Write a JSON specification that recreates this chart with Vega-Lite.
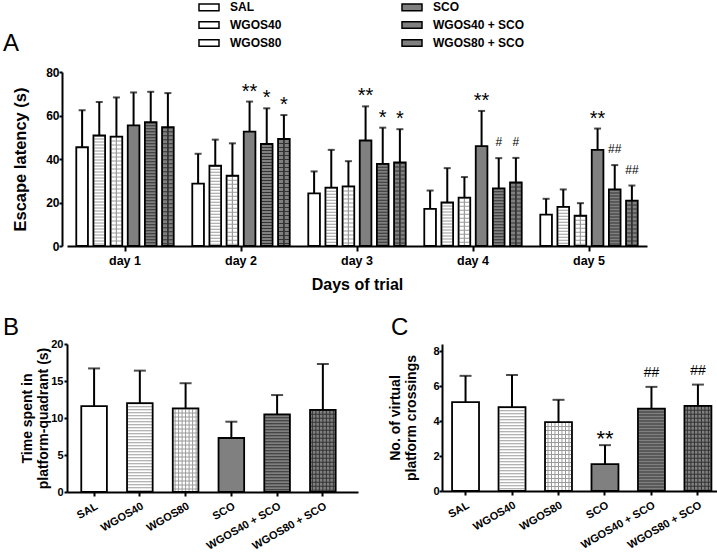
{
  "$schema": "https://vega.github.io/schema/vega-lite/v6.json",
  "padding": {"left": 3, "top": -4, "right": 0, "bottom": 0},
  "background": "white",
  "config": {
    "font": "Liberation Sans",
    "view": {"stroke": null},
    "axis": {
      "domainColor": "black", "domainWidth": 2, "tickColor": "black", "tickWidth": 2,
      "labelColor": "black", "titleColor": "black", "labelFontWeight": "bold", "titleFontWeight": "bold",
      "grid": false, "labelFont": "Liberation Sans", "titleFont": "Liberation Sans", "labelOverlap": false
    }
  },
  "datasets": {
    "escape": [
      {"day": "day 1", "group": "SAL", "mean": 45.4, "err": 62.4, "ann": ""},
      {"day": "day 1", "group": "WGOS40", "mean": 50.8, "err": 66.2, "ann": ""},
      {"day": "day 1", "group": "WGOS80", "mean": 50.3, "err": 68.3, "ann": ""},
      {"day": "day 1", "group": "SCO", "mean": 55.5, "err": 70.6, "ann": ""},
      {"day": "day 1", "group": "WGOS40 + SCO", "mean": 56.9, "err": 70.9, "ann": ""},
      {"day": "day 1", "group": "WGOS80 + SCO", "mean": 54.6, "err": 70.3, "ann": ""},
      {"day": "day 2", "group": "SAL", "mean": 28.7, "err": 42.4, "ann": ""},
      {"day": "day 2", "group": "WGOS40", "mean": 36.9, "err": 48.9, "ann": ""},
      {"day": "day 2", "group": "WGOS80", "mean": 32.3, "err": 47.2, "ann": ""},
      {"day": "day 2", "group": "SCO", "mean": 52.6, "err": 66.4, "ann": "**"},
      {"day": "day 2", "group": "WGOS40 + SCO", "mean": 46.9, "err": 63.3, "ann": "*"},
      {"day": "day 2", "group": "WGOS80 + SCO", "mean": 49.2, "err": 60.2, "ann": "*"},
      {"day": "day 3", "group": "SAL", "mean": 24.2, "err": 34.3, "ann": ""},
      {"day": "day 3", "group": "WGOS40", "mean": 26.8, "err": 44.2, "ann": ""},
      {"day": "day 3", "group": "WGOS80", "mean": 27.4, "err": 39.0, "ann": ""},
      {"day": "day 3", "group": "SCO", "mean": 48.5, "err": 64.2, "ann": "**"},
      {"day": "day 3", "group": "WGOS40 + SCO", "mean": 37.8, "err": 54.4, "ann": "*"},
      {"day": "day 3", "group": "WGOS80 + SCO", "mean": 38.4, "err": 53.7, "ann": "*"},
      {"day": "day 4", "group": "SAL", "mean": 17.1, "err": 25.5, "ann": ""},
      {"day": "day 4", "group": "WGOS40", "mean": 20.0, "err": 35.8, "ann": ""},
      {"day": "day 4", "group": "WGOS80", "mean": 22.2, "err": 31.7, "ann": ""},
      {"day": "day 4", "group": "SCO", "mean": 45.9, "err": 62.1, "ann": "**"},
      {"day": "day 4", "group": "WGOS40 + SCO", "mean": 26.5, "err": 40.4, "ann": "#"},
      {"day": "day 4", "group": "WGOS80 + SCO", "mean": 29.2, "err": 40.5, "ann": "#"},
      {"day": "day 5", "group": "SAL", "mean": 14.4, "err": 21.7, "ann": ""},
      {"day": "day 5", "group": "WGOS40", "mean": 18.0, "err": 26.0, "ann": ""},
      {"day": "day 5", "group": "WGOS80", "mean": 13.9, "err": 19.7, "ann": ""},
      {"day": "day 5", "group": "SCO", "mean": 44.2, "err": 54.0, "ann": "**"},
      {"day": "day 5", "group": "WGOS40 + SCO", "mean": 26.0, "err": 37.2, "ann": "##"},
      {"day": "day 5", "group": "WGOS80 + SCO", "mean": 20.9, "err": 27.8, "ann": "##"}
    ],
    "quadrant": [
      {"group": "SAL", "mean": 11.6, "err": 16.7},
      {"group": "WGOS40", "mean": 12.0, "err": 16.4},
      {"group": "WGOS80", "mean": 11.3, "err": 14.7},
      {"group": "SCO", "mean": 7.3, "err": 9.5},
      {"group": "WGOS40 + SCO", "mean": 10.5, "err": 13.1},
      {"group": "WGOS80 + SCO", "mean": 11.1, "err": 17.3}
    ],
    "crossings": [
      {"group": "SAL", "mean": 5.08, "err": 6.58, "ann": ""},
      {"group": "WGOS40", "mean": 4.79, "err": 6.63, "ann": ""},
      {"group": "WGOS80", "mean": 3.94, "err": 5.21, "ann": ""},
      {"group": "SCO", "mean": 1.54, "err": 2.62, "ann": "**"},
      {"group": "WGOS40 + SCO", "mean": 4.71, "err": 5.95, "ann": "##"},
      {"group": "WGOS80 + SCO", "mean": 4.87, "err": 6.08, "ann": "##"}
    ]
  },
  "resolve": {"legend": {"fill": "independent"}},
  "spacing": 23,
  "vconcat": [
    {
      "width": 580,
      "height": 174,
      "title": {"text": "A", "anchor": "start", "frame": "group", "font": "Liberation Sans", "fontSize": 24, "fontWeight": "normal", "color": "black", "dx": -64, "dy": 68, "offset": 8},
      "data": {"name": "escape"},
      "encoding": {
        "x": {"field": "day", "type": "nominal", "scale": {"paddingInner": 0.16, "paddingOuter": 0.08},
          "axis": {"title": "Days of trial", "labelAngle": 0, "labelFontSize": 12.5, "titleFontSize": 16, "tickSize": 5, "labelPadding": 3, "titlePadding": 10}},
        "xOffset": {"field": "group", "type": "nominal", "sort": ["SAL", "WGOS40", "WGOS80", "SCO", "WGOS40 + SCO", "WGOS80 + SCO"], "scale": {"paddingInner": 0.32, "paddingOuter": 0}}
      },
      "layer": [
        {
          "mark": {"type": "bar"},
          "encoding": {
            "y": {"field": "mean", "type": "quantitative", "scale": {"domain": [0, 80]},
              "axis": {"title": "Escape latency (s)", "values": [0, 20, 40, 60, 80], "tickCount": 5, "offset": 5, "labelOverlap": false, "labelFontSize": 12, "titleFontSize": 16.5, "tickSize": 3, "labelPadding": 0, "titlePadding": 17}},
            "fill": {"field": "group", "type": "nominal",
              "scale": {"domain": ["SAL", "WGOS40", "WGOS80", "SCO", "WGOS40 + SCO", "WGOS80 + SCO"],
                        "range": ["#ffffff", "#ffffff", "#ffffff", "#808080", "#808080", "#808080"]},
              "legend": {"orient": "none", "legendX": 131, "legendY": -76, "columns": 2, "columnPadding": 117, "rowPadding": -0.5,
                "symbolType": "M-1,-0.33H1V0.33H-1Z", "symbolSize": 400, "symbolStrokeColor": "black", "symbolStrokeWidth": 1.5,
                "labelFontSize": 12, "labelFontWeight": "bold", "labelColor": "black", "labelOffset": 10, "title": null, "padding": 0}}
          }
        },
        {
          "transform": [{"filter": "datum.group !== 'SAL' && datum.group !== 'SCO'"}],
          "mark": {"type": "rule", "strokeWidth": 10},
          "encoding": {
            "y": {"field": "mean", "type": "quantitative"}, "y2": {"datum": 0},
            "stroke": {"field": "group", "type": "nominal", "legend": null,
              "scale": {"domain": ["WGOS40", "WGOS80", "WGOS40 + SCO", "WGOS80 + SCO"], "range": ["#9a9a9a", "#9a9a9a", "#333333", "#333333"]}},
            "strokeDash": {"field": "group", "type": "nominal", "legend": null,
              "scale": {"domain": ["WGOS40", "WGOS80", "WGOS40 + SCO", "WGOS80 + SCO"], "range": [[1, 2], [1, 3], [1, 2], [1, 3]]}}
          }
        },
        {
          "transform": [{"filter": "datum.group === 'WGOS80' || datum.group === 'WGOS80 + SCO'"}],
          "encoding": {
            "y": {"field": "mean", "type": "quantitative"}, "y2": {"datum": 0},
            "stroke": {"field": "group", "type": "nominal", "legend": null}
          },
          "layer": [
            {"mark": {"type": "rule", "strokeWidth": 1, "xOffset": -3}},
            {"mark": {"type": "rule", "strokeWidth": 1, "xOffset": 0}},
            {"mark": {"type": "rule", "strokeWidth": 1, "xOffset": 3}}
          ]
        },
        {
          "mark": {"type": "bar", "fillOpacity": 0, "stroke": "black", "strokeWidth": 1.8},
          "encoding": {"y": {"field": "mean", "type": "quantitative"}}
        },
        {
          "mark": {"type": "rule", "strokeWidth": 2, "color": "black"},
          "encoding": {"y": {"field": "mean", "type": "quantitative"}, "y2": {"field": "err"}}
        },
        {
          "mark": {"type": "tick", "color": "black", "thickness": 2, "size": 7},
          "encoding": {"y": {"field": "err", "type": "quantitative"}}
        },
        {
          "transform": [{"filter": "datum.ann === '*' || datum.ann === '**'"}],
          "mark": {"type": "text", "fontSize": 20, "baseline": "alphabetic", "dy": -4, "color": "black"},
          "encoding": {"y": {"field": "err", "type": "quantitative"}, "text": {"field": "ann"}}
        },
        {
          "transform": [{"filter": "datum.ann === '#' || datum.ann === '##'"}],
          "mark": {"type": "text", "fontSize": 12, "baseline": "alphabetic", "dy": -12, "color": "black"},
          "encoding": {"y": {"field": "err", "type": "quantitative"}, "text": {"field": "ann"}}
        }
      ]
    },
    {
      "spacing": 30,
      "hconcat": [
        {
          "width": 291,
          "height": 148,
          "title": {"text": "B", "anchor": "start", "frame": "group", "font": "Liberation Sans", "fontSize": 24, "fontWeight": "normal", "color": "black", "dx": -64, "dy": 2, "offset": 0},
          "data": {"name": "quadrant"},
          "encoding": {
            "x": {"field": "group", "type": "nominal", "sort": ["SAL", "WGOS40", "WGOS80", "SCO", "WGOS40 + SCO", "WGOS80 + SCO"],
              "scale": {"paddingInner": 0.44, "paddingOuter": 0.4, "align": 0.39},
              "axis": {"title": null, "labelAngle": -30, "labelAlign": "right", "labelBaseline": "top", "labelFontSize": 11, "tickSize": 4, "labelPadding": 4}}
          },
          "layer": [
            {
              "mark": {"type": "bar"},
              "encoding": {
                "y": {"field": "mean", "type": "quantitative", "scale": {"domain": [0, 20]},
                  "axis": {"title": ["Time spent in", "platform-quadrant (s)"], "values": [0, 5, 10, 15, 20], "tickCount": 5, "labelOverlap": false, "labelFontSize": 11, "titleFontSize": 14, "titleLineHeight": 16, "tickSize": 3, "labelPadding": 1, "titlePadding": 0}},
                "fill": {"field": "group", "type": "nominal", "legend": null,
                  "scale": {"domain": ["SAL", "WGOS40", "WGOS80", "SCO", "WGOS40 + SCO", "WGOS80 + SCO"],
                            "range": ["#ffffff", "#ffffff", "#ffffff", "#808080", "#808080", "#808080"]}}
              }
            },
            {
              "transform": [{"filter": "datum.group !== 'SAL' && datum.group !== 'SCO'"}],
              "mark": {"type": "rule", "strokeWidth": 24},
              "encoding": {
                "y": {"field": "mean", "type": "quantitative"}, "y2": {"datum": 0},
                "stroke": {"field": "group", "type": "nominal", "legend": null,
                  "scale": {"domain": ["WGOS40", "WGOS80", "WGOS40 + SCO", "WGOS80 + SCO"], "range": ["#9a9a9a", "#9a9a9a", "#333333", "#333333"]}},
                "strokeDash": {"field": "group", "type": "nominal", "legend": null,
                  "scale": {"domain": ["WGOS40", "WGOS80", "WGOS40 + SCO", "WGOS80 + SCO"], "range": [[1, 2], [1, 2.6], [1, 2], [1, 2.6]]}}
              }
            },
            {
              "transform": [{"filter": "datum.group === 'WGOS80' || datum.group === 'WGOS80 + SCO'"}],
              "encoding": {
                "y": {"field": "mean", "type": "quantitative"}, "y2": {"datum": 0},
                "stroke": {"field": "group", "type": "nominal", "legend": null}
              },
              "layer": [
                {"mark": {"type": "rule", "strokeWidth": 1, "xOffset": -10.5}},
                {"mark": {"type": "rule", "strokeWidth": 1, "xOffset": -7}},
                {"mark": {"type": "rule", "strokeWidth": 1, "xOffset": -3.5}},
                {"mark": {"type": "rule", "strokeWidth": 1, "xOffset": 0}},
                {"mark": {"type": "rule", "strokeWidth": 1, "xOffset": 3.5}},
                {"mark": {"type": "rule", "strokeWidth": 1, "xOffset": 7}},
                {"mark": {"type": "rule", "strokeWidth": 1, "xOffset": 10.5}}
              ]
            },
            {
              "mark": {"type": "bar", "fillOpacity": 0, "stroke": "black", "strokeWidth": 1.8},
              "encoding": {"y": {"field": "mean", "type": "quantitative"}}
            },
            {
              "mark": {"type": "rule", "strokeWidth": 2, "color": "black"},
              "encoding": {"y": {"field": "mean", "type": "quantitative"}, "y2": {"field": "err"}}
            },
            {
              "mark": {"type": "tick", "color": "black", "thickness": 2, "size": 12},
              "encoding": {"y": {"field": "err", "type": "quantitative"}}
            }
          ]
        },
        {
          "width": 277,
          "height": 147,
          "title": {"text": "C", "anchor": "start", "frame": "group", "font": "Liberation Sans", "fontSize": 24, "fontWeight": "normal", "color": "black", "dx": -51, "dy": 2, "offset": 6},
          "data": {"name": "crossings"},
          "encoding": {
            "x": {"field": "group", "type": "nominal", "sort": ["SAL", "WGOS40", "WGOS80", "SCO", "WGOS40 + SCO", "WGOS80 + SCO"],
              "scale": {"paddingInner": 0.42, "paddingOuter": 0.19, "align": 0.57},
              "axis": {"title": null, "labelAngle": -30, "labelAlign": "right", "labelBaseline": "top", "labelFontSize": 11, "tickSize": 4, "labelPadding": 4}}
          },
          "layer": [
            {
              "mark": {"type": "bar"},
              "encoding": {
                "y": {"field": "mean", "type": "quantitative", "scale": {"domain": [0, 8.4], "nice": false},
                  "axis": {"title": ["No. of virtual", "platform crossings"], "values": [0, 2, 4, 6, 8], "tickCount": 5, "labelOverlap": false, "labelFontSize": 11, "titleFontSize": 14, "titleLineHeight": 16, "tickSize": 3, "labelPadding": 0, "titlePadding": 14}},
                "fill": {"field": "group", "type": "nominal", "legend": null,
                  "scale": {"domain": ["SAL", "WGOS40", "WGOS80", "SCO", "WGOS40 + SCO", "WGOS80 + SCO"],
                            "range": ["#ffffff", "#ffffff", "#ffffff", "#808080", "#808080", "#808080"]}}
              }
            },
            {
              "transform": [{"filter": "datum.group !== 'SAL' && datum.group !== 'SCO'"}],
              "mark": {"type": "rule", "strokeWidth": 25},
              "encoding": {
                "y": {"field": "mean", "type": "quantitative"}, "y2": {"datum": 0},
                "stroke": {"field": "group", "type": "nominal", "legend": null,
                  "scale": {"domain": ["WGOS40", "WGOS80", "WGOS40 + SCO", "WGOS80 + SCO"], "range": ["#9a9a9a", "#9a9a9a", "#333333", "#333333"]}},
                "strokeDash": {"field": "group", "type": "nominal", "legend": null,
                  "scale": {"domain": ["WGOS40", "WGOS80", "WGOS40 + SCO", "WGOS80 + SCO"], "range": [[1, 2], [1, 2.6], [1, 2], [1, 2.6]]}}
              }
            },
            {
              "transform": [{"filter": "datum.group === 'WGOS80' || datum.group === 'WGOS80 + SCO'"}],
              "encoding": {
                "y": {"field": "mean", "type": "quantitative"}, "y2": {"datum": 0},
                "stroke": {"field": "group", "type": "nominal", "legend": null}
              },
              "layer": [
                {"mark": {"type": "rule", "strokeWidth": 1, "xOffset": -10.5}},
                {"mark": {"type": "rule", "strokeWidth": 1, "xOffset": -7}},
                {"mark": {"type": "rule", "strokeWidth": 1, "xOffset": -3.5}},
                {"mark": {"type": "rule", "strokeWidth": 1, "xOffset": 0}},
                {"mark": {"type": "rule", "strokeWidth": 1, "xOffset": 3.5}},
                {"mark": {"type": "rule", "strokeWidth": 1, "xOffset": 7}},
                {"mark": {"type": "rule", "strokeWidth": 1, "xOffset": 10.5}}
              ]
            },
            {
              "mark": {"type": "bar", "fillOpacity": 0, "stroke": "black", "strokeWidth": 1.8},
              "encoding": {"y": {"field": "mean", "type": "quantitative"}}
            },
            {
              "mark": {"type": "rule", "strokeWidth": 2, "color": "black"},
              "encoding": {"y": {"field": "mean", "type": "quantitative"}, "y2": {"field": "err"}}
            },
            {
              "mark": {"type": "tick", "color": "black", "thickness": 2, "size": 12},
              "encoding": {"y": {"field": "err", "type": "quantitative"}}
            },
            {
              "transform": [{"filter": "datum.ann === '**'"}],
              "mark": {"type": "text", "fontSize": 22, "baseline": "alphabetic", "dy": 1, "color": "black"},
              "encoding": {"y": {"field": "err", "type": "quantitative"}, "text": {"field": "ann"}}
            },
            {
              "transform": [{"filter": "datum.ann === '##'"}],
              "mark": {"type": "text", "fontSize": 14, "baseline": "alphabetic", "dy": -10, "color": "black"},
              "encoding": {"y": {"field": "err", "type": "quantitative"}, "text": {"field": "ann"}}
            }
          ]
        }
      ]
    }
  ]
}
